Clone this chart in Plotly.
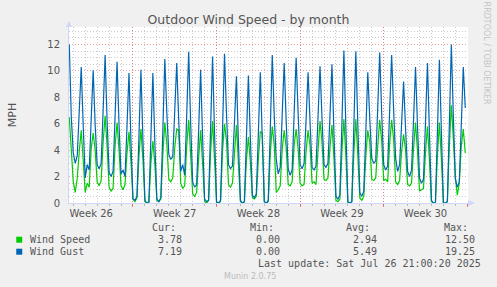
import numpy as np
import plotly.graph_objects as go

# ---------------- data ----------------
# samples every 4 hours, first sample at graph start; time axis in days
SAMPLE_STEP_DAYS = 1 / 6
FIRST_SAMPLE_DAY = 0.025
GRAPH_SPAN_DAYS = 33.42

wind_speed = [
    6.5, 4.4, 1.6, 0.8, 1.9, 3.9,
    5.5, 3.2, 0.8, 1.5, 1.2, 4.1,
    5.3, 4.0, 1.6, 1.3, 1.7, 4.6,
    6.6, 4.3, 1.2, 0.9, 1.1, 4.3,
    6.1, 4.0, 1.3, 1.0, 1.4, 3.8,
    5.4, 3.1, 0.3, 0.1, 0.4, 3.5,
    5.6, 3.3, 0.1, 0.0, 0.1, 3.0,
    4.7, 2.9, 0.2, 0.1, 0.3, 3.6,
    6.1, 4.5, 1.8, 1.6, 1.9, 4.2,
    5.6, 5.5, 1.5, 1.1, 1.3, 4.3,
    6.3, 3.6, 0.7, 0.5, 0.8, 3.4,
    5.5, 3.0, 0.1, 0.0, 0.2, 3.8,
    6.2, 3.3, 0.0, 0.0, 0.1, 3.9,
    6.0, 4.7, 1.4, 1.2, 1.5, 3.7,
    5.9, 3.0, 0.1, 0.0, 0.1, 3.2,
    5.0, 3.1, 0.4, 0.3, 0.5, 3.3,
    5.4, 5.3, 0.1, 0.0, 0.1, 3.7,
    5.8, 4.4, 0.8, 1.0, 1.3, 4.1,
    5.5, 4.2, 1.4, 1.3, 1.6, 4.4,
    5.6, 4.1, 1.5, 1.3, 1.4, 3.9,
    5.5, 4.3, 1.5, 1.6, 1.4, 4.0,
    6.2, 4.6, 1.8, 1.7, 1.9, 4.2,
    5.9, 3.4, 0.2, 0.1, 0.3, 3.9,
    6.35, 3.5, 0.0, 0.0, 0.1, 3.8,
    6.35, 3.6, 0.4, 0.2, 0.5, 3.5,
    5.5, 4.6, 1.8, 1.7, 1.9, 4.3,
    6.3, 4.7, 1.7, 1.8, 1.6, 4.5,
    6.3, 4.8, 1.6, 1.4, 1.7, 3.9,
    5.2, 4.0, 1.4, 1.3, 1.5, 4.1,
    6.1, 3.9, 0.9, 1.0, 1.1, 3.8,
    5.8, 3.2, 0.1, 0.0, 0.0, 3.6,
    6.1, 3.3, 0.0, 0.0, 0.1, 4.4,
    7.4, 4.9, 2.0, 0.6, 1.5, 4.3,
    5.6, 3.78,
]

wind_gust = [
    12.0, 6.5, 3.8, 3.0, 3.6, 6.7,
    10.3, 5.8, 1.9, 2.9, 2.5, 6.3,
    10.05, 5.9, 2.9, 2.6, 3.0, 7.0,
    11.2, 6.2, 2.3, 2.0, 2.4, 6.5,
    10.7, 5.9, 2.2, 2.5, 2.0, 5.8,
    9.85, 4.6, 0.3, 0.2, 0.5, 5.0,
    10.1, 4.8, 0.2, 0.0, 0.0, 4.9,
    9.85, 4.5, 0.3, 0.1, 0.4, 5.4,
    10.9, 6.9, 3.7, 3.3, 3.5, 7.0,
    10.6, 6.2, 2.4, 2.9, 2.1, 6.6,
    11.45, 6.0, 1.6, 1.2, 1.4, 5.5,
    10.1, 4.9, 0.3, 0.1, 0.2, 5.6,
    11.1, 5.3, 0.1, 0.0, 0.2, 5.5,
    11.3, 6.8, 2.9, 2.6, 2.8, 6.1,
    9.6, 4.6, 0.2, 0.0, 0.1, 4.8,
    9.65, 4.9, 0.6, 0.4, 0.7, 5.2,
    9.9, 4.8, 0.1, 0.0, 0.2, 5.5,
    11.2, 6.6, 3.3, 2.2, 2.7, 6.7,
    10.6, 6.2, 2.6, 2.1, 2.5, 6.8,
    11.0, 6.8, 2.9, 2.6, 3.0, 6.3,
    9.9, 6.1, 2.7, 2.5, 2.8, 6.5,
    10.35, 6.4, 2.9, 2.7, 3.0, 6.6,
    10.5, 5.3, 0.5, 0.3, 0.6, 6.0,
    11.55, 5.7, 0.1, 0.0, 0.1, 5.8,
    11.5, 5.9, 0.8, 0.5, 0.9, 5.3,
    9.9, 6.4, 3.4, 3.0, 3.2, 7.2,
    11.4, 6.8, 2.9, 2.5, 2.8, 7.0,
    11.2, 7.0, 3.4, 2.4, 2.9, 6.0,
    9.2, 5.6, 2.4, 2.0, 2.5, 6.3,
    10.3, 5.8, 1.9, 1.5, 1.8, 6.1,
    10.6, 5.3, 0.2, 0.0, 0.0, 5.4,
    10.85, 5.4, 0.0, 0.0, 0.1, 6.0,
    12.0, 6.6, 1.8, 1.2, 1.6, 5.9,
    10.3, 7.19,
]

# week boundaries (days from graph start) and week labels (centred mid-week)
week_boundaries = [5.36, 12.36, 19.36, 26.36, 33.36]
week_label_pos = [1.86, 8.86, 15.86, 22.86, 29.86]
week_labels = ["Week 26", "Week 27", "Week 28", "Week 29", "Week 30"]

series_names = ["Wind Speed", "Wind Gust"]
series_colors = ["#00CC00", "#0066B3"]
stat_headers = ["Cur:", "Min:", "Avg:", "Max:"]
stats_speed = ["3.78", "0.00", "2.94", "12.50"]
stats_gust = ["7.19", "0.00", "5.49", "19.25"]
last_update = "Last update: Sat Jul 26 21:00:20 2025"

# ---------------- figure ----------------
W, H = 497, 287
L, R, T, B = 67, 29, 27, 84
PW, PH = W - L - R, H - T - B


def px(x):
    return (x - L) / PW


def py(y):
    return (H - B - y) / PH


t_speed = FIRST_SAMPLE_DAY + SAMPLE_STEP_DAYS * np.arange(len(wind_speed))
t_gust = FIRST_SAMPLE_DAY + SAMPLE_STEP_DAYS * np.arange(len(wind_gust))

fig = go.Figure()
fig.add_trace(go.Scatter(x=t_speed, y=wind_speed, mode="lines", name=series_names[0],
                         line=dict(color=series_colors[0], width=1.2), xaxis="x", yaxis="y"))
fig.add_trace(go.Scatter(x=t_gust, y=wind_gust, mode="lines", name=series_names[1],
                         line=dict(color=series_colors[1], width=1.2), xaxis="x2", yaxis="y"))

FONT_COL = "#555555"
AXIS_COL = "#CFD6F8"
MINOR_GRID = "rgba(140,140,140,0.45)"
MAJOR_GRID = "rgba(225,60,60,0.5)"
DOT = "1px,2px"

fig.update_layout(
    width=W, height=H,
    margin=dict(l=L, r=R, t=T, b=B, pad=0),
    paper_bgcolor="#F0F0F0", plot_bgcolor="#FFFFFF",
    showlegend=False,
    font=dict(family="DejaVu Sans", color=FONT_COL, size=10),
    title=dict(text="Outdoor Wind Speed - by month", x=0.5, xref="container", xanchor="center",
               y=1 - 19.3 / H, yref="container", yanchor="middle",
               font=dict(family="DejaVu Sans", size=12.5, color=FONT_COL)),
    xaxis=dict(range=[0, GRAPH_SPAN_DAYS], tickmode="array", tickvals=week_boundaries,
               showticklabels=False, showgrid=True, gridcolor=MAJOR_GRID, griddash=DOT,
               gridwidth=1, ticks="outside", ticklen=3, tickcolor="rgba(225,60,60,0.6)",
               showline=True, linecolor=AXIS_COL, linewidth=1, zeroline=False,
               minor=dict(tickmode="linear", tick0=0.36, dtick=1, showgrid=True,
                          gridcolor=MINOR_GRID, griddash=DOT, ticks="outside",
                          ticklen=2, tickcolor="#BBBBBB")),
    xaxis2=dict(range=[0, GRAPH_SPAN_DAYS], overlaying="x", anchor="y", side="bottom",
                tickmode="array", tickvals=week_label_pos, ticktext=week_labels,
                showgrid=False, zeroline=False, showline=False, ticks="",
                ticklabelstandoff=3,
                tickfont=dict(family="DejaVu Sans", size=10, color=FONT_COL)),
    yaxis=dict(range=[0, 13.33], tickmode="linear", tick0=0, dtick=2,
               showgrid=True, gridcolor=MAJOR_GRID, griddash=DOT, gridwidth=1,
               zeroline=False, showline=True, linecolor=AXIS_COL, linewidth=1,
               ticks="", ticklabelstandoff=6,
               tickfont=dict(family="DejaVu Sans", size=10, color=FONT_COL),
               title=dict(text="MPH", standoff=28,
                          font=dict(family="DejaVu Sans", size=11, color=FONT_COL)),
               minor=dict(tickmode="linear", tick0=0, dtick=0.5, showgrid=True,
                          gridcolor=MINOR_GRID, griddash=DOT)),
)

shapes = []
# axis arrows
shapes.append(dict(type="path", xref="paper", yref="paper",
                   path=f"M {px(64)} {py(27)} L {px(70)} {py(27)} L {px(67)} {py(21)} Z",
                   fillcolor=AXIS_COL, line=dict(width=0)))
shapes.append(dict(type="path", xref="paper", yref="paper",
                   path=f"M {px(468)} {py(200)} L {px(468)} {py(206)} L {px(475)} {py(203)} Z",
                   fillcolor=AXIS_COL, line=dict(width=0)))
# legend squares
for i, col in enumerate(series_colors):
    yc = 239.7 + 12 * i
    shapes.append(dict(type="rect", xref="paper", yref="paper",
                       x0=px(14), x1=px(20), y0=py(yc + 3), y1=py(yc - 3),
                       fillcolor=col, line=dict(width=0)))
fig.update_layout(shapes=shapes)

mono = dict(family="DejaVu Sans Mono", size=10, color=FONT_COL)
ann = []
ann.append(dict(x=px(W / 2), xref="paper", y=py(276), yref="paper",
                text="Munin 2.0.75", showarrow=False, xanchor="center", yanchor="middle",
                font=dict(family="DejaVu Sans", size=8, color="#BBBBBB")))
ann.append(dict(x=px(W - 9.5), xref="paper", y=py(53), yref="paper",
                text="RRDTOOL / TOBI OETIKER", textangle=90, showarrow=False,
                xanchor="center", yanchor="middle",
                font=dict(family="DejaVu Sans", size=8, color="#C4C4C4")))
header_right = [177, 275, 372, 470]
value_right = [183, 281, 379, 477]
for h, xr in zip(stat_headers, header_right):
    ann.append(dict(x=px(xr), y=py(227.7), xref="paper", yref="paper", text=h,
                    showarrow=False, xanchor="right", yanchor="middle", font=mono))
for row, (name, vals) in enumerate(zip(series_names, [stats_speed, stats_gust])):
    yc = 239.7 + 12 * row
    ann.append(dict(x=px(26), y=py(yc), xref="paper", yref="paper", text=name,
                    showarrow=False, xanchor="left", yanchor="middle", font=mono))
    for v, xr in zip(vals, value_right):
        ann.append(dict(x=px(xr), y=py(yc), xref="paper", yref="paper", text=v,
                        showarrow=False, xanchor="right", yanchor="middle", font=mono))
ann.append(dict(x=px(483), y=py(263.7), xref="paper", yref="paper", text=last_update,
                showarrow=False, xanchor="right", yanchor="middle", font=mono))
fig.update_layout(annotations=ann)

fig.write_html("out.html")
